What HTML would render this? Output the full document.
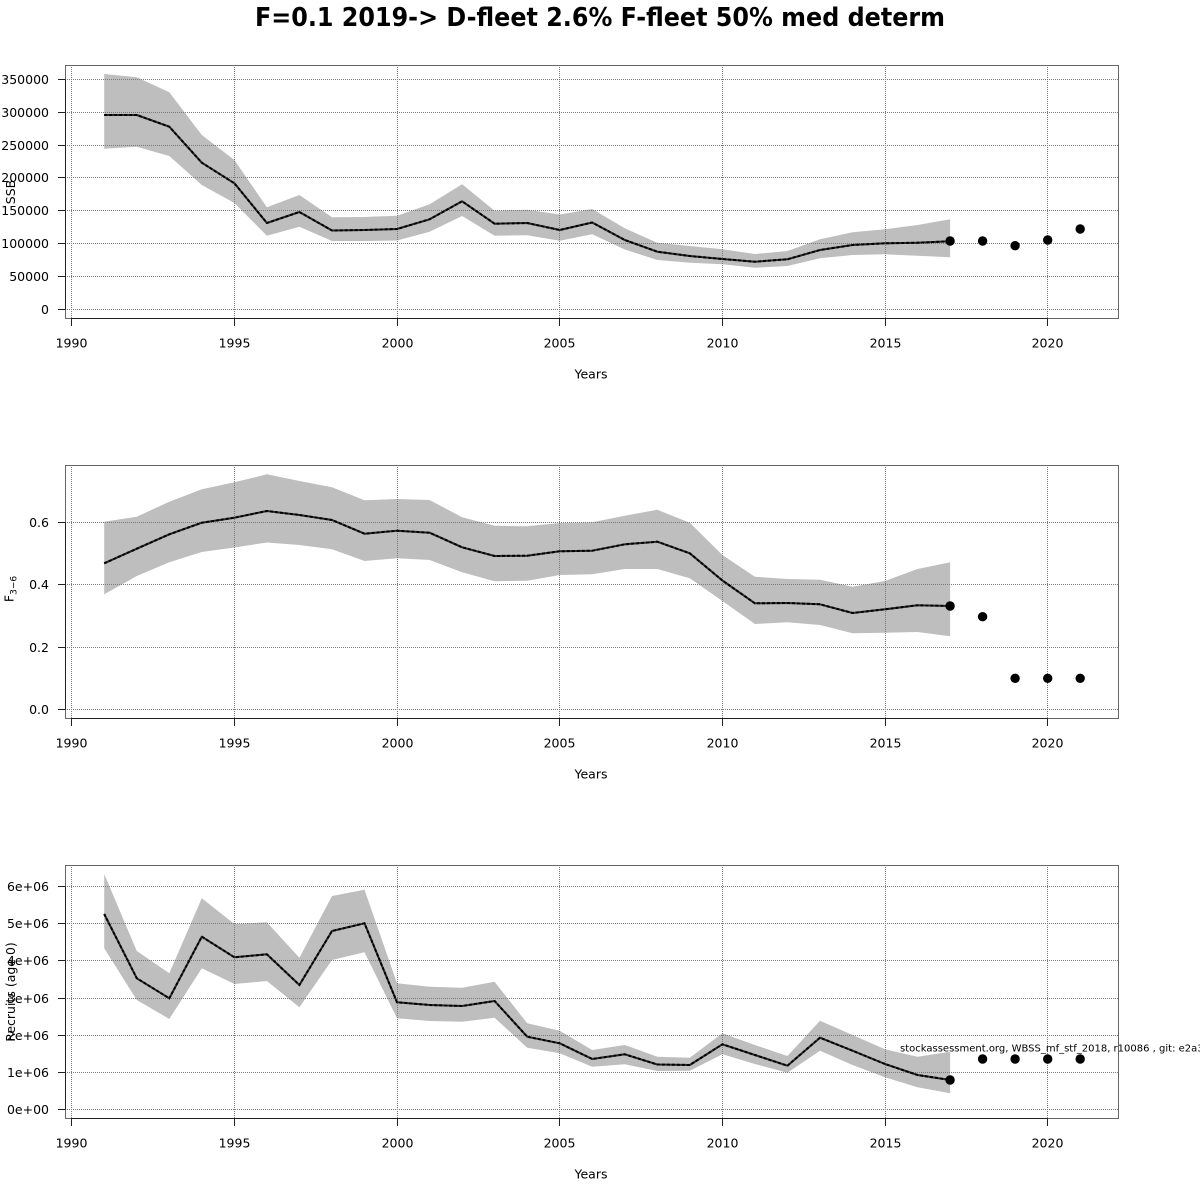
<!DOCTYPE html>
<html><head><meta charset="utf-8"><style>
html,body{margin:0;padding:0;background:#fff;}
svg{display:block;}
text{font-family:"DejaVu Sans","Liberation Sans",sans-serif;fill:#000;}
.tk{font-size:12.5px;}
.grid line{stroke:#7a7a7a;stroke-width:1;stroke-dasharray:1 1;}
.box{fill:none;stroke:#666;stroke-width:1;}
.ax{stroke:#222;stroke-width:1;fill:none;}
.band{fill:#bebebe;stroke:none;}
.ml{fill:none;stroke:#2a2a2a;stroke-width:2;stroke-linejoin:round;}
.md{fill:none;stroke:#000;stroke-width:2;stroke-dasharray:3 2;}
</style></head><body>
<svg width="1200" height="1200" viewBox="0 0 1200 1200" xmlns="http://www.w3.org/2000/svg">
<rect width="1200" height="1200" fill="#fff"/>
<text x="600" y="26" text-anchor="middle" font-size="26" font-weight="bold" textLength="690" lengthAdjust="spacingAndGlyphs">F=0.1 2019-&gt; D-fleet 2.6% F-fleet 50% med determ</text>

<!-- ================= PANEL 1 ================= -->
<polygon class="band" points="104.2,74 136.8,77.3 169.3,92.3 201.8,135 234.4,160 266.9,207.3 299.4,195 332,217.3 364.5,217 397,215.7 429.6,204.3 462.1,184.3 494.6,210.7 527.2,209.7 559.7,214.5 592.2,209 624.8,228.3 657.3,242.7 689.8,246 722.4,249.3 754.9,254 787.4,251 820,239.3 852.5,232.3 885,229.3 917.5,225 950.1,219.3 950.1,257.3 917.5,255.7 885,254.3 852.5,255 820,258.3 787.4,266 754.9,267.7 722.4,264.3 689.8,262.7 657.3,260 624.8,249.5 592.2,234.2 559.7,240.7 527.2,235.3 494.6,235.7 462.1,216 429.6,231.7 397,240.5 364.5,241 332,241 299.4,226.7 266.9,235.7 234.4,203 201.8,185 169.3,156 136.8,146.7 104.2,148.7"/>
<g class="grid">
<line x1="71.5" y1="65" x2="71.5" y2="319"/><line x1="234.5" y1="65" x2="234.5" y2="319"/><line x1="397.5" y1="65" x2="397.5" y2="319"/><line x1="559.5" y1="65" x2="559.5" y2="319"/><line x1="722.5" y1="65" x2="722.5" y2="319"/><line x1="885.5" y1="65" x2="885.5" y2="319"/><line x1="1047.5" y1="65" x2="1047.5" y2="319"/>
<line x1="65" y1="309.5" x2="1119" y2="309.5"/><line x1="65" y1="276.5" x2="1119" y2="276.5"/><line x1="65" y1="243.5" x2="1119" y2="243.5"/><line x1="65" y1="210.5" x2="1119" y2="210.5"/><line x1="65" y1="177.5" x2="1119" y2="177.5"/><line x1="65" y1="145.5" x2="1119" y2="145.5"/><line x1="65" y1="112.5" x2="1119" y2="112.5"/><line x1="65" y1="79.5" x2="1119" y2="79.5"/>
</g>
<polyline class="ml" points="104.2,115 136.8,115 169.3,126.7 201.8,162.7 234.4,183.3 266.9,223 299.4,212 332,230.5 364.5,230 397,229 429.6,219.3 462.1,201.3 494.6,223.7 527.2,223 559.7,230 592.2,222.5 624.8,240 657.3,251.7 689.8,256 722.4,259 754.9,261.7 787.4,259.3 820,250 852.5,245 885,243.3 917.5,242.7 950.1,241.3"/>
<polyline class="md" points="104.2,115 136.8,115 169.3,126.7 201.8,162.7 234.4,183.3 266.9,223 299.4,212 332,230.5 364.5,230 397,229 429.6,219.3 462.1,201.3 494.6,223.7 527.2,223 559.7,230 592.2,222.5 624.8,240 657.3,251.7 689.8,256 722.4,259 754.9,261.7 787.4,259.3 820,250 852.5,245 885,243.3 917.5,242.7 950.1,241.3"/>
<g fill="#000"><circle cx="950.1" cy="241" r="4.7"/><circle cx="982.6" cy="241" r="4.7"/><circle cx="1015.1" cy="245.7" r="4.7"/><circle cx="1047.7" cy="240" r="4.7"/><circle cx="1080.2" cy="229" r="4.7"/></g>
<rect class="box" x="65.5" y="65.5" width="1053" height="253"/>
<path class="ax" d="M65.5 309.5V79.5 M58 309.5H65.5 M58 276.5H65.5 M58 243.5H65.5 M58 210.5H65.5 M58 177.5H65.5 M58 145.5H65.5 M58 112.5H65.5 M58 79.5H65.5"/>
<path class="ax" d="M71.5 318.5H1047.5 M71.5 318.5V326 M234.5 318.5V326 M397.5 318.5V326 M559.5 318.5V326 M722.5 318.5V326 M885.5 318.5V326 M1047.5 318.5V326"/>
<g class="tk" text-anchor="end">
<text x="49" y="314">0</text><text x="49" y="281">50000</text><text x="49" y="248">100000</text><text x="49" y="215">150000</text><text x="49" y="182">200000</text><text x="49" y="150">250000</text><text x="49" y="117">300000</text><text x="49" y="84">350000</text>
</g>
<g class="tk" text-anchor="middle">
<text x="71.5" y="347.5">1990</text><text x="234.5" y="347.5">1995</text><text x="397.5" y="347.5">2000</text><text x="559.5" y="347.5">2005</text><text x="722.5" y="347.5">2010</text><text x="885.5" y="347.5">2015</text><text x="1047.5" y="347.5">2020</text>
<text x="591" y="378.5">Years</text>
</g>
<text class="tk" text-anchor="middle" transform="translate(15,192) rotate(-90)">SSB</text>

<!-- ================= PANEL 2 ================= -->
<polygon class="band" points="104.2,521.7 136.8,516.7 169.3,501.7 201.8,489.3 234.4,482.3 266.9,474.3 299.4,481 332,487.3 364.5,500.3 397,499 429.6,500 462.1,517.3 494.6,525.7 527.2,526.3 559.7,523 592.2,522.3 624.8,515.7 657.3,509.7 689.8,522.7 722.4,555 754.9,576.7 787.4,579 820,579.7 852.5,586.7 885,581 917.5,569 950.1,562.3 950.1,636.3 917.5,632 885,632.7 852.5,633.3 820,625 787.4,622.3 754.9,624 722.4,601 689.8,578.3 657.3,569 624.8,569 592.2,574.3 559.7,575 527.2,580.7 494.6,581.3 462.1,572.3 429.6,560 397,558.3 364.5,561 332,549.3 299.4,545 266.9,542.5 234.4,547.5 201.8,552 169.3,562.3 136.8,576 104.2,594.3"/>
<g class="grid">
<line x1="71.5" y1="465" x2="71.5" y2="719"/><line x1="234.5" y1="465" x2="234.5" y2="719"/><line x1="397.5" y1="465" x2="397.5" y2="719"/><line x1="559.5" y1="465" x2="559.5" y2="719"/><line x1="722.5" y1="465" x2="722.5" y2="719"/><line x1="885.5" y1="465" x2="885.5" y2="719"/><line x1="1047.5" y1="465" x2="1047.5" y2="719"/>
<line x1="65" y1="709.5" x2="1119" y2="709.5"/><line x1="65" y1="647.5" x2="1119" y2="647.5"/><line x1="65" y1="584.5" x2="1119" y2="584.5"/><line x1="65" y1="522.5" x2="1119" y2="522.5"/>
</g>
<polyline class="ml" points="104.2,563.3 136.8,548.7 169.3,534.3 201.8,522.7 234.4,517.7 266.9,511 299.4,515 332,520 364.5,533.7 397,530.7 429.6,532.7 462.1,547.3 494.6,556 527.2,555.7 559.7,551.3 592.2,550.7 624.8,544.3 657.3,541.7 689.8,553.3 722.4,580.5 754.9,603.3 787.4,603 820,604.3 852.5,613 885,609.3 917.5,605.3 950.1,606"/>
<polyline class="md" points="104.2,563.3 136.8,548.7 169.3,534.3 201.8,522.7 234.4,517.7 266.9,511 299.4,515 332,520 364.5,533.7 397,530.7 429.6,532.7 462.1,547.3 494.6,556 527.2,555.7 559.7,551.3 592.2,550.7 624.8,544.3 657.3,541.7 689.8,553.3 722.4,580.5 754.9,603.3 787.4,603 820,604.3 852.5,613 885,609.3 917.5,605.3 950.1,606"/>
<g fill="#000"><circle cx="950.1" cy="606" r="4.7"/><circle cx="982.6" cy="616.7" r="4.7"/><circle cx="1015.1" cy="678.3" r="4.7"/><circle cx="1047.7" cy="678.3" r="4.7"/><circle cx="1080.2" cy="678.3" r="4.7"/></g>
<rect class="box" x="65.5" y="465.5" width="1053" height="253"/>
<path class="ax" d="M65.5 709.5V522.5 M58 709.5H65.5 M58 647.5H65.5 M58 584.5H65.5 M58 522.5H65.5"/>
<path class="ax" d="M71.5 718.5H1047.5 M71.5 718.5V726 M234.5 718.5V726 M397.5 718.5V726 M559.5 718.5V726 M722.5 718.5V726 M885.5 718.5V726 M1047.5 718.5V726"/>
<g class="tk" text-anchor="end">
<text x="49" y="714">0.0</text><text x="49" y="652">0.2</text><text x="49" y="589">0.4</text><text x="49" y="527">0.6</text>
</g>
<g class="tk" text-anchor="middle">
<text x="71.5" y="747.5">1990</text><text x="234.5" y="747.5">1995</text><text x="397.5" y="747.5">2000</text><text x="559.5" y="747.5">2005</text><text x="722.5" y="747.5">2010</text><text x="885.5" y="747.5">2015</text><text x="1047.5" y="747.5">2020</text>
<text x="591" y="778.5">Years</text>
</g>
<text text-anchor="middle" transform="translate(13.5,589) rotate(-90)"><tspan font-size="12.5">F</tspan><tspan font-size="9" dy="3">3−6</tspan></text>

<!-- ================= PANEL 3 ================= -->
<polygon class="band" points="104.2,874 136.8,951 169.3,973.3 201.8,898.3 234.4,924 266.9,922.3 299.4,957.7 332,896 364.5,889.7 397,983.3 429.6,986.7 462.1,987.7 494.6,981.7 527.2,1023.3 559.7,1030.7 592.2,1050 624.8,1045 657.3,1056.7 689.8,1057.7 722.4,1033.3 754.9,1045 787.4,1056 820,1020.7 852.5,1035 885,1049.3 917.5,1056.7 950.1,1051.7 950.1,1093.3 917.5,1087.3 885,1077.3 852.5,1065 820,1050.7 787.4,1072.7 754.9,1064 722.4,1054.3 689.8,1070.7 657.3,1071 624.8,1064.3 592.2,1066.7 559.7,1053.3 527.2,1047.7 494.6,1017.7 462.1,1021.7 429.6,1021 397,1018.3 364.5,952.3 332,960 299.4,1007.3 266.9,981 234.4,984 201.8,968.3 169.3,1019 136.8,1000 104.2,948.3"/>
<g class="grid">
<line x1="71.5" y1="865" x2="71.5" y2="1119"/><line x1="234.5" y1="865" x2="234.5" y2="1119"/><line x1="397.5" y1="865" x2="397.5" y2="1119"/><line x1="559.5" y1="865" x2="559.5" y2="1119"/><line x1="722.5" y1="865" x2="722.5" y2="1119"/><line x1="885.5" y1="865" x2="885.5" y2="1119"/><line x1="1047.5" y1="865" x2="1047.5" y2="1119"/>
<line x1="65" y1="1109.5" x2="1119" y2="1109.5"/><line x1="65" y1="1072.5" x2="1119" y2="1072.5"/><line x1="65" y1="1035.5" x2="1119" y2="1035.5"/><line x1="65" y1="998.5" x2="1119" y2="998.5"/><line x1="65" y1="960.5" x2="1119" y2="960.5"/><line x1="65" y1="923.5" x2="1119" y2="923.5"/><line x1="65" y1="886.5" x2="1119" y2="886.5"/>
</g>
<polyline class="ml" points="104.2,914 136.8,978.3 169.3,998.3 201.8,936.7 234.4,957.3 266.9,954.3 299.4,985 332,931 364.5,923.3 397,1002.3 429.6,1005 462.1,1006 494.6,1001 527.2,1036.7 559.7,1043.3 592.2,1059 624.8,1054.3 657.3,1064.5 689.8,1065 722.4,1044.3 754.9,1055 787.4,1065.7 820,1037.7 852.5,1050.7 885,1064 917.5,1075 950.1,1080"/>
<polyline class="md" points="104.2,914 136.8,978.3 169.3,998.3 201.8,936.7 234.4,957.3 266.9,954.3 299.4,985 332,931 364.5,923.3 397,1002.3 429.6,1005 462.1,1006 494.6,1001 527.2,1036.7 559.7,1043.3 592.2,1059 624.8,1054.3 657.3,1064.5 689.8,1065 722.4,1044.3 754.9,1055 787.4,1065.7 820,1037.7 852.5,1050.7 885,1064 917.5,1075 950.1,1080"/>
<g fill="#000"><circle cx="950.1" cy="1080" r="4.7"/><circle cx="982.6" cy="1059" r="4.7"/><circle cx="1015.1" cy="1059" r="4.7"/><circle cx="1047.7" cy="1059" r="4.7"/><circle cx="1080.2" cy="1059" r="4.7"/></g>
<rect class="box" x="65.5" y="865.5" width="1053" height="253"/>
<path class="ax" d="M65.5 1109.5V886.5 M58 1109.5H65.5 M58 1072.5H65.5 M58 1035.5H65.5 M58 998.5H65.5 M58 960.5H65.5 M58 923.5H65.5 M58 886.5H65.5"/>
<path class="ax" d="M71.5 1118.5H1047.5 M71.5 1118.5V1126 M234.5 1118.5V1126 M397.5 1118.5V1126 M559.5 1118.5V1126 M722.5 1118.5V1126 M885.5 1118.5V1126 M1047.5 1118.5V1126"/>
<g class="tk" text-anchor="end">
<text x="49" y="1114">0e+00</text><text x="49" y="1077">1e+06</text><text x="49" y="1040">2e+06</text><text x="49" y="1003">3e+06</text><text x="49" y="965">4e+06</text><text x="49" y="928">5e+06</text><text x="49" y="891">6e+06</text>
</g>
<g class="tk" text-anchor="middle">
<text x="71.5" y="1147.5">1990</text><text x="234.5" y="1147.5">1995</text><text x="397.5" y="1147.5">2000</text><text x="559.5" y="1147.5">2005</text><text x="722.5" y="1147.5">2010</text><text x="885.5" y="1147.5">2015</text><text x="1047.5" y="1147.5">2020</text>
<text x="591" y="1178.5">Years</text>
</g>
<text class="tk" text-anchor="middle" transform="translate(15,992) rotate(-90)">Recruits (age 0)</text>

<text x="900" y="1051.5" font-size="10">stockassessment.org, WBSS_mf_stf_2018, r10086 , git: e2a30c1</text>
</svg>
</body></html>
